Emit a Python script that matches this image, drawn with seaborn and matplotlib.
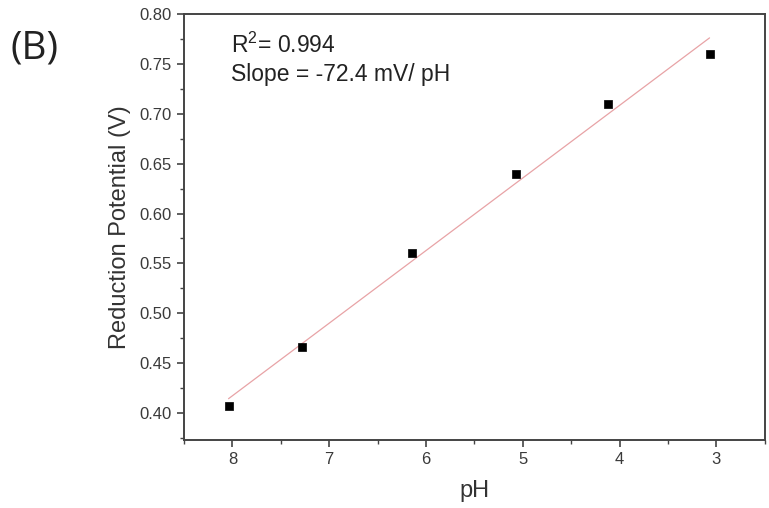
import matplotlib
matplotlib.use("Agg")
import matplotlib.pyplot as plt
import seaborn as sns
import numpy as np
import pandas as pd
from matplotlib.ticker import MultipleLocator

ph = [8.04, 7.28, 6.14, 5.07, 4.12, 3.07]
potential = [0.407, 0.466, 0.560, 0.640, 0.710, 0.760]
x_ticks = [8, 7, 6, 5, 4, 3]
y_ticks = [0.40, 0.45, 0.50, 0.55, 0.60, 0.65, 0.70, 0.75, 0.80]
annot_r2 = "R$^2$= 0.994"
annot_slope = "Slope = -72.4 mV/ pH"
panel_label = "(B)"

sns.set_style("ticks")
plt.rcParams['font.family'] = ['Liberation Sans', 'DejaVu Sans']
plt.rcParams['mathtext.fontset'] = 'custom'
plt.rcParams['mathtext.rm'] = 'Liberation Sans'

df = pd.DataFrame({"pH": ph, "E": potential})

fig = plt.figure(figsize=(7.69, 5.08), dpi=100)
ax = fig.add_axes([184/769, 1-440/508, (764.7-184)/769, (440-14)/508])

sns.regplot(data=df, x="pH", y="E", ax=ax, scatter=False, ci=None,
            line_kws=dict(color="#e8a3a6", lw=0.9))
sns.scatterplot(data=df, x="pH", y="E", ax=ax, marker="s", s=40,
                color="black", edgecolor="black", linewidth=0.5, zorder=3)

ax.set_xlim(8.5, 2.5)
ax.set_ylim(0.373, 0.80)
ax.set_xticks(x_ticks)
ax.set_xticklabels([str(t) for t in x_ticks])
ax.set_yticks(y_ticks)
ax.set_yticklabels([f"{t:.2f}" for t in y_ticks])
ax.xaxis.set_minor_locator(MultipleLocator(0.5))
ax.yaxis.set_minor_locator(MultipleLocator(0.025))

tc = "#444444"
for s in ax.spines.values():
    s.set_color(tc)
    s.set_linewidth(1.4)
    s.set_visible(True)
ax.tick_params(which="major", direction="out", length=5, width=1.2, color=tc,
               labelsize=12, labelcolor="#3a3a3a", pad=4)
ax.tick_params(which="minor", direction="out", length=3, width=1.0, color=tc)
ax.tick_params(axis="x", which="both", top=False)
ax.tick_params(axis="y", which="both", right=False)

ax.set_xlabel("pH", fontsize=17, color="#333333", labelpad=9)
ax.set_ylabel("Reduction Potential (V)", fontsize=17, color="#333333", labelpad=6)

fig.text(231/769, 1-45/508, annot_r2,
         fontsize=16.5, color="#222222", va="center", ha="left")
fig.text(231/769, 1-74/508, annot_slope,
         fontsize=16.5, color="#222222", va="center", ha="left")
fig.text(35/769, 1-49/508, panel_label, fontsize=28, color="#222222",
         va="center", ha="center", family=['Open Sans', 'DejaVu Sans'])

fig.savefig("out.png", dpi=100)
